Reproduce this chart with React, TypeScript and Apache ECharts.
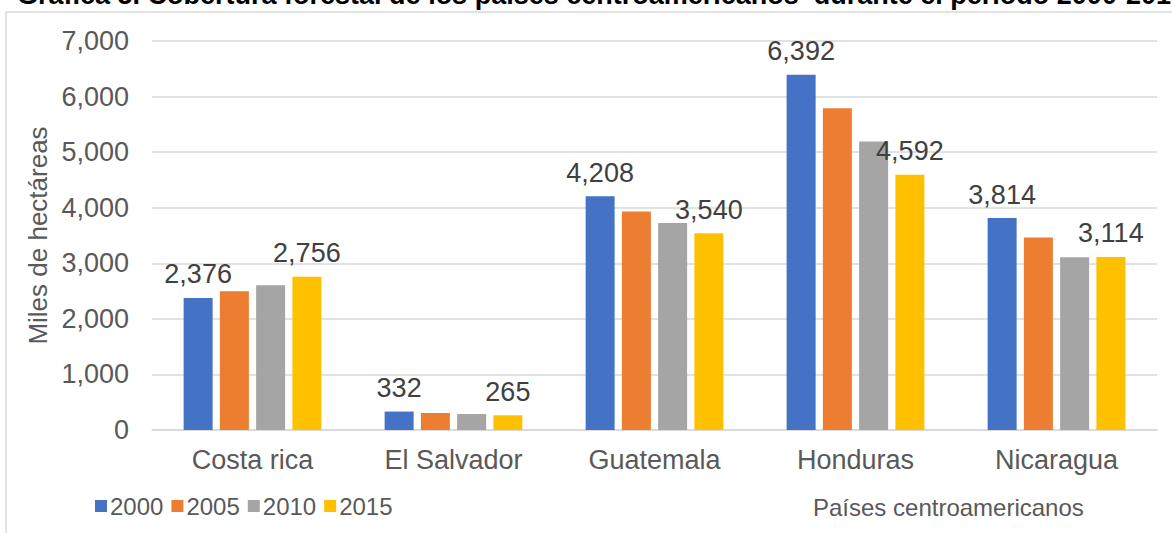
import React, { useEffect, useRef } from "react";
import * as echarts from "echarts";

const categories = ["Costa rica", "El Salvador", "Guatemala", "Honduras", "Nicaragua"];
const years = ["2000", "2005", "2010", "2015"];
const values2000 = [2376, 332, 4208, 6392, 3814];
const values2005 = [2495, 306, 3933, 5792, 3462];
const values2010 = [2603, 288, 3723, 5192, 3108];
const values2015 = [2756, 265, 3540, 4592, 3114];
const colors = ["#4472C4", "#ED7D31", "#A5A5A5", "#FFC000"];
const showLabels = [true, false, false, true];

const titleText = "Gráfica 5. Cobertura forestal de los países centroamericanos  durante el período 2000-2015";
const yAxisName = "Miles de hectáreas";
const xAxisName = "Países centroamericanos";

const FONT = "'Liberation Sans', Arial, sans-serif";

export default function App() {
  const ref = useRef<HTMLDivElement>(null);
  useEffect(() => {
    if (!ref.current) return;
    const chart = echarts.init(ref.current, null, { renderer: "svg" });
    const allSeries = [values2000, values2005, values2010, values2015];
    chart.setOption({
      animation: false,
      backgroundColor: "#ffffff",
      textStyle: { fontFamily: FONT },
      grid: { left: 152, right: 15, top: 41, bottom: 103 },
      legend: {
        left: 90,
        top: 489,
        itemWidth: 12,
        itemHeight: 12,
        itemGap: 8,
        icon: "rect",
        data: years,
        textStyle: { fontSize: 24, color: "#595959", fontFamily: FONT, padding: [0, 0, 0, -2] },
      },
      xAxis: {
        type: "category",
        data: categories,
        axisLine: { show: true, lineStyle: { color: "#D9D9D9", width: 1.5 } },
        axisTick: { show: false },
        axisLabel: { fontSize: 27, color: "#595959", margin: 16, fontFamily: FONT },
      },
      yAxis: {
        type: "value",
        min: 0,
        max: 7000,
        interval: 1000,
        name: yAxisName,
        nameLocation: "middle",
        nameRotate: 90,
        nameGap: 82,
        nameTextStyle: { fontSize: 26, color: "#595959", fontFamily: FONT },
        axisLine: { show: false },
        axisTick: { show: false },
        splitLine: { lineStyle: { color: "#D9D9D9", width: 1.5 } },
        axisLabel: {
          fontSize: 27,
          color: "#595959",
          margin: 23,
          fontFamily: FONT,
          formatter: (v: number) => v.toLocaleString("en-US"),
        },
      },
      series: allSeries.map((data, i) => ({
        name: years[i],
        type: "bar",
        data,
        barWidth: 29,
        barGap: "25%",
        itemStyle: { color: colors[i] },
        label: {
          show: showLabels[i],
          position: "top",
          distance: 10,
          fontSize: 27,
          color: "#404040",
          fontFamily: FONT,
          formatter: (p: any) => Number(p.value).toLocaleString("en-US"),
        },
      })),
      graphic: [
        {
          type: "rect",
          shape: { x: 6, y: 12, width: 1250, height: 700 },
          style: { fill: "none", stroke: "#D9D9D9", lineWidth: 1.5 },
          silent: true,
          z: -10,
        },
        {
          type: "text",
          x: 17,
          y: 8,
          style: {
            text: titleText,
            fontSize: 27,
            fontWeight: "bold",
            fill: "#000000",
            fontFamily: FONT,
            verticalAlign: "bottom",
          },
        },
        {
          type: "text",
          x: 813,
          y: 507,
          style: {
            text: xAxisName,
            fontSize: 24,
            fill: "#595959",
            fontFamily: FONT,
            verticalAlign: "middle",
          },
        },
      ],
    });
    return () => chart.dispose();
  }, []);
  return (
    <div
      ref={ref}
      style={{ position: "fixed", left: 0, top: 0, width: 1172, height: 533 }}
    />
  );
}
